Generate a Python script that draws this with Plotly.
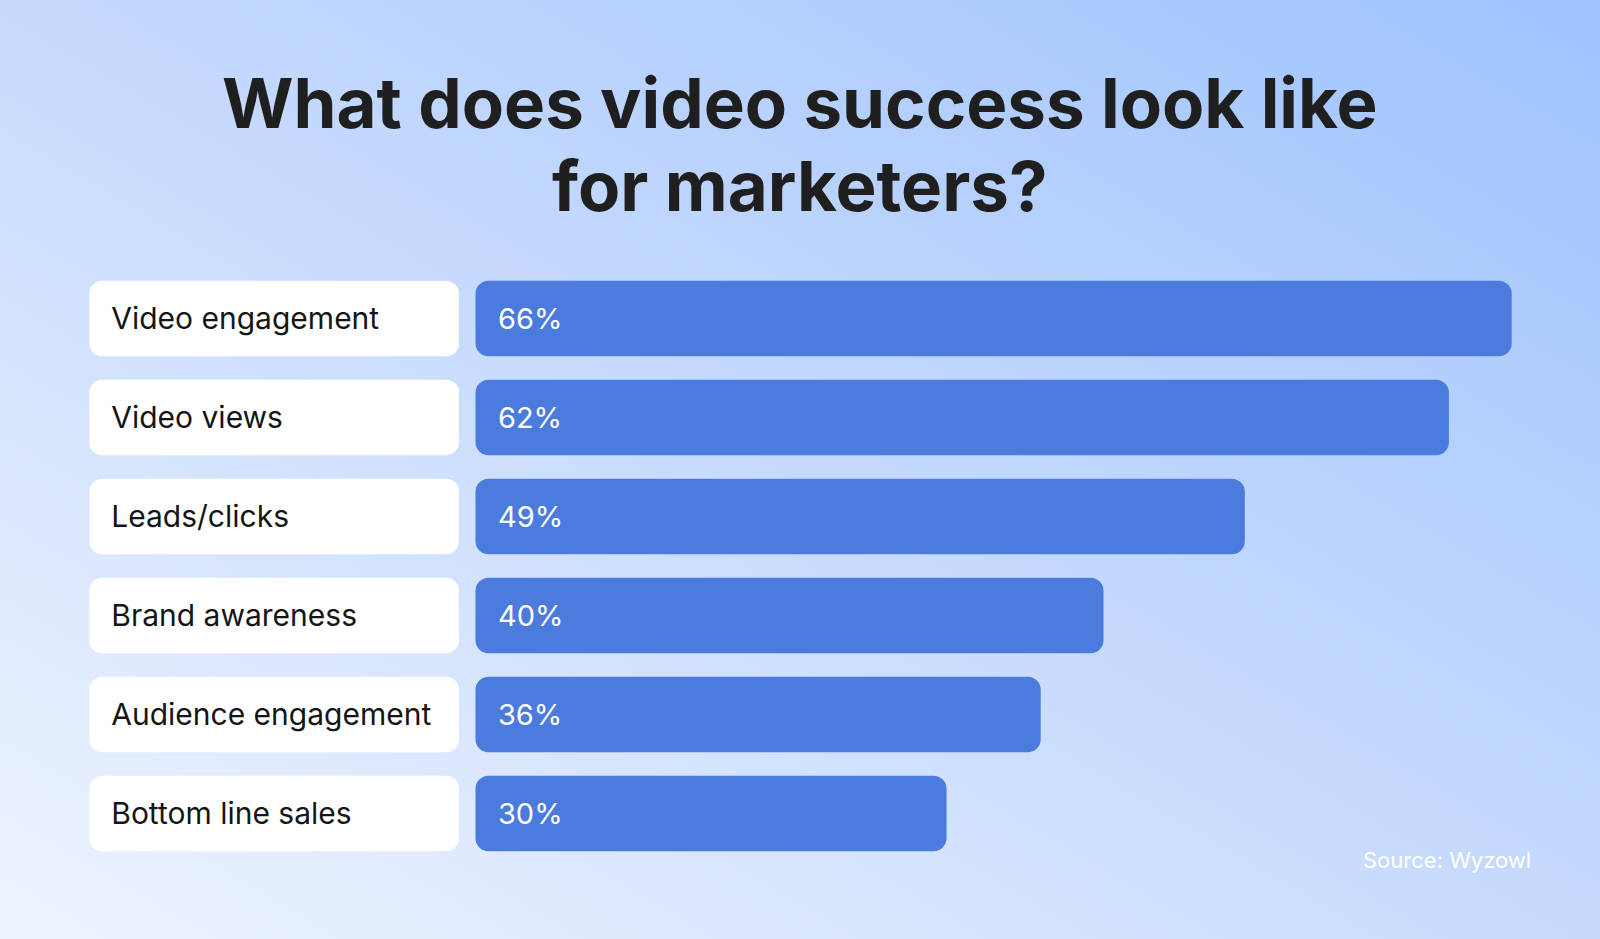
import plotly.graph_objects as go

# survey data (Wyzowl)
categories = ["Video engagement", "Video views", "Leads/clicks",
              "Brand awareness", "Audience engagement", "Bottom line sales"]
values = [66, 62, 49, 40, 36, 30]
source = "Source: Wyzowl"
title_lines = ["What does video success look like", "for marketers?"]

W, H = 1600, 939
BLUE = "#4a7bdd"
FONT = "Inter"

# x axis: 1 pct = PX pixels, zero sits at ZERO_PX on the page
PX = 15.7
ZERO_PX = 475.5
x_range = [-ZERO_PX / PX, (W - ZERO_PX) / PX]
# y axis: one row = ROW pixels, first row centred at FIRST_PX
ROW = 99
FIRST_PX = 318.5
y_range = [(H - FIRST_PX) / ROW, -FIRST_PX / ROW]

rows = list(range(len(categories)))
n = len(categories)
box_l, box_r = -24.6, -1.05   # white label boxes (axis units)
bar_w = 0.763
rad = 13
text_rows = [r + 0.03 for r in rows]   # nudge text to sit optically centred

fig = go.Figure()

# soft diagonal gradient behind everything
fig.add_trace(go.Heatmap(
    x=[x_range[0], x_range[1]], y=[y_range[1], y_range[0]],
    z=[[0.5, 1.0], [0.0, 0.5]], zmin=0, zmax=1, zsmooth="best",
    colorscale=[[0, "#eef4fe"], [0.5, "#c6dafd"], [1, "#9ec3fe"]],
    showscale=False, hoverinfo="skip"))

# white label boxes
fig.add_trace(go.Bar(y=rows, base=[box_l] * n, x=[box_r - box_l] * n,
                     orientation="h", width=bar_w, hoverinfo="skip",
                     marker=dict(color="white", cornerradius=rad, line_width=0)))
# value bars
fig.add_trace(go.Bar(y=rows, x=values, base=[0] * n, orientation="h", width=bar_w,
                     marker=dict(color=BLUE, cornerradius=rad, line_width=0),
                     hovertemplate="%{x}%<extra></extra>"))

fig.add_trace(go.Scatter(
    x=[-23.2] * n, y=text_rows, mode="text", text=categories,
    textposition="middle right", hoverinfo="skip",
    textfont=dict(family=FONT, size=30, color="#151515")))
fig.add_trace(go.Scatter(
    x=[1.43] * n, y=text_rows, mode="text", text=[f"{v}%" for v in values],
    textposition="middle right", hoverinfo="skip",
    textfont=dict(family=FONT, size=29, color="white", weight=400)))

for i, line in enumerate(title_lines):
    fig.add_annotation(x=0.5, y=1 - (103 + 83 * i) / H, xref="paper", yref="paper",
                       text=line, showarrow=False, xanchor="center", yanchor="middle",
                       font=dict(family=FONT, size=69, color="#1f1f1f", weight=700))

fig.add_annotation(x=1533 / W, y=1 - 860 / H, xref="paper", yref="paper",
                   text=source, showarrow=False, xanchor="right", yanchor="middle",
                   font=dict(family=FONT, size=22, color="white"))

fig.update_layout(
    width=W, height=H, margin=dict(l=0, r=0, t=0, b=0),
    barmode="overlay", showlegend=False,
    paper_bgcolor="#c6dafd", plot_bgcolor="#c6dafd",
    xaxis=dict(range=x_range, visible=False, fixedrange=True),
    yaxis=dict(range=y_range, visible=False, fixedrange=True),
)

# drop the default page margin so the figure fills the window
fig.write_html("out.html", config={"displayModeBar": False},
               post_script="document.body.style.margin = '0';")
